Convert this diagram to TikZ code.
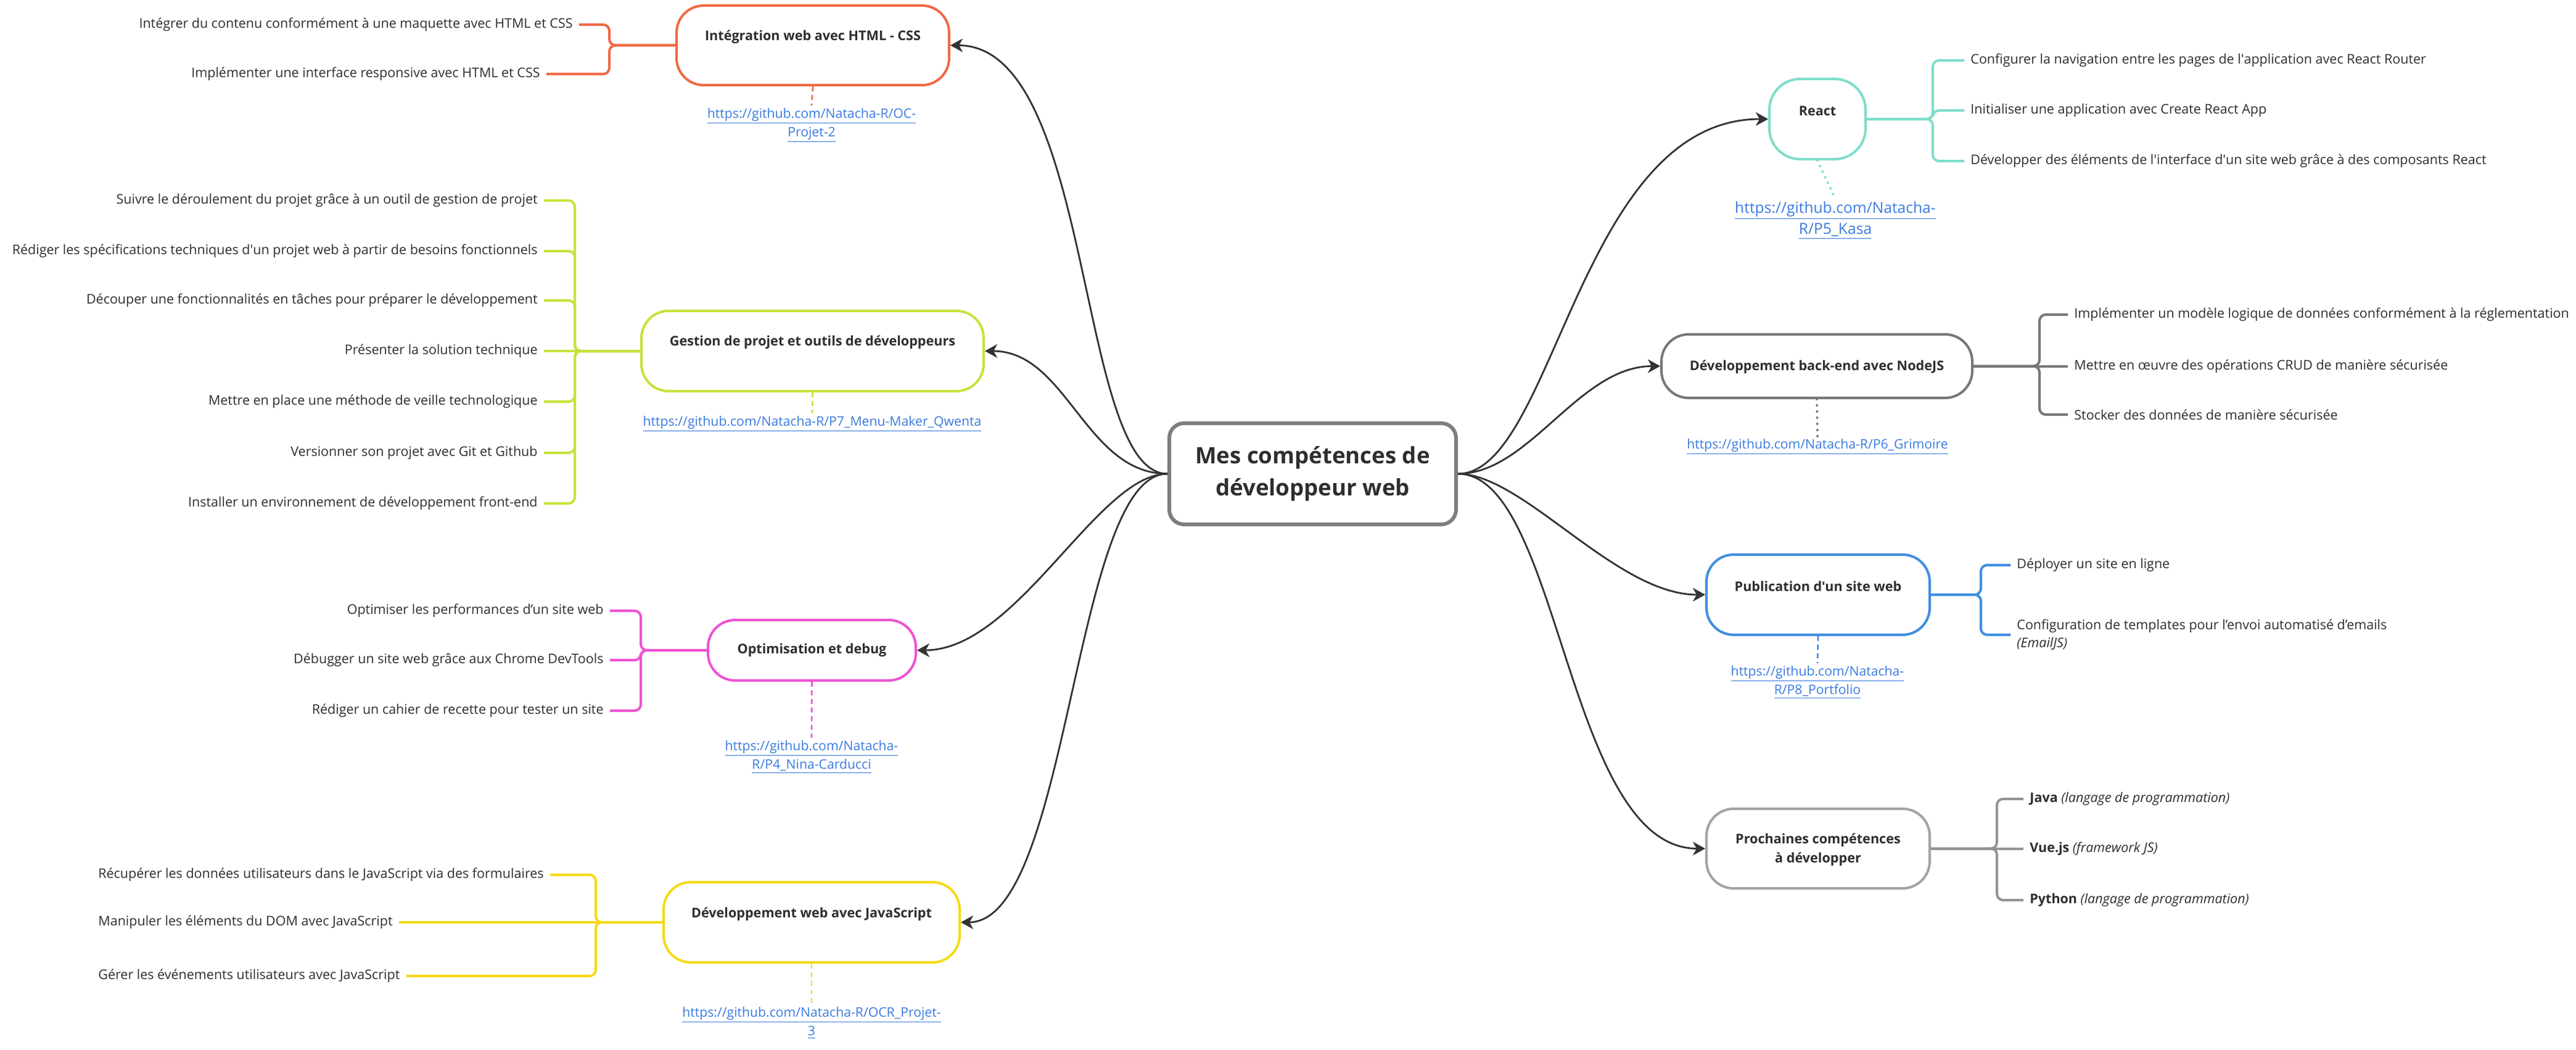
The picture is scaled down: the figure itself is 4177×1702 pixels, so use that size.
\documentclass[tikz,border=0pt]{standalone}
\usepackage{fontspec}
\newfontfamily\os{Open Sans}
\usetikzlibrary{arrows.meta}
\definecolor{cOrange}{HTML}{EF6A45}
\definecolor{cLime}{HTML}{C6E33A}
\definecolor{cMag}{HTML}{EE52D2}
\definecolor{cYel}{HTML}{F6DA16}
\definecolor{cTeal}{HTML}{7EDDCA}
\definecolor{cBlue}{HTML}{3F8EE0}
\definecolor{cNode}{HTML}{777777}
\definecolor{cNext}{HTML}{A3A3A3}
\definecolor{cCore}{HTML}{7E7E7E}
\definecolor{cDark}{HTML}{333333}
\definecolor{cTxt}{HTML}{2E2E2E}
\definecolor{cLink}{HTML}{3B7BDF}
\tikzset{
  box/.style={draw=#1, line width=2pt, rounded corners=22pt, fill=white, inner sep=0pt},
  ttl/.style={font=\os\bfseries\fontsize{10.8}{15.5}\selectfont, text=cTxt, align=center, inner sep=0pt},
  itemL/.style={font=\os\fontsize{10.75}{14.5}\selectfont, text=cTxt, anchor=east, inner xsep=5pt, inner ysep=0pt},
  itemR/.style={font=\os\fontsize{10.75}{14.5}\selectfont, text=cTxt, anchor=west, align=left, inner xsep=5pt, inner ysep=0pt},
  itemJ/.style={font=\os\fontsize{10.75}{14.5}\selectfont, text=cTxt, anchor=west, inner xsep=5pt, inner ysep=0pt},
  lnk/.style={font=\os\fontsize{10.6}{15}\selectfont, text=cLink, align=center, inner sep=2pt},
  lnkbig/.style={font=\os\fontsize{12.3}{17}\selectfont, text=cLink, align=center, inner sep=2pt},
  br/.style={draw=#1, line width=2pt, rounded corners=5pt},
  conn/.style={draw=cDark, line width=1.4pt, -{Stealth[length=10pt,width=11pt,inset=3pt]}},
  dsh/.style={draw=#1, line width=1.3pt, dash pattern=on 4pt off 3pt},
  dts/.style={draw=#1, line width=2pt, line cap=round, dash pattern=on 0pt off 5pt},
}
\newcommand{\lk}[1]{\underline{#1}}
\begin{document}
\begin{tikzpicture}[x=0.5pt,y=-0.5pt]
\path[fill=white, use as bounding box] (0,0) rectangle (4177,1702);

% central node
\node[draw=cCore, line width=3pt, rounded corners=12pt, fill=white, minimum width=232.5pt, minimum height=82pt,
      font=\os\bfseries\fontsize{18.3}{26}\selectfont, text=cTxt, align=center] (c) at (2128.5,768)
      {Mes compétences de\\développeur web};

% ---------- left boxes ----------
\node[box=cOrange, minimum width=221pt, minimum height=64.5pt] (html) at (1318,73.5) {};
\node[ttl] (tHtml) at (1318,60) {Intégration web avec HTML - CSS};
\node[box=cLime, minimum width=277.5pt, minimum height=65pt] (gest) at (1317.5,569) {};
\node[ttl] (tGest) at (1317.5,555) {Gestion de projet et outils de développeurs};
\node[box=cMag, minimum width=168.5pt, minimum height=49pt] (optim) at (1316.5,1054) {};
\node[ttl] (tOptim) at (1316.5,1054) {Optimisation et debug};
\node[box=cYel, minimum width=240pt, minimum height=65pt] (js) at (1316,1495) {};
\node[ttl] (tJs) at (1316,1482) {Développement web avec JavaScript};

% ---------- right boxes ----------
\node[box=cTeal, rounded corners=25pt, minimum width=78pt, minimum height=65pt] (react) at (2947,193) {};
\node[ttl] (tReact) at (2947,180) {React};
\node[box=cNode, minimum width=252pt, minimum height=51.5pt] (nodejs) at (2946,593.5) {};
\node[ttl] (tNode) at (2946,595) {Développement back-end avec NodeJS};
\node[box=cBlue, minimum width=181pt, minimum height=65pt] (pub) at (2948,964) {};
\node[ttl] (tPub) at (2948,950) {Publication d'un site web};
\node[box=cNext, minimum width=181pt, minimum height=64.5pt] (proch) at (2948,1375.5) {};
\node[ttl] (tProch) at (2948,1377) {Prochaines compétences\\à développer};

% ---------- main connectors ----------
\draw[conn] (c.west) .. controls (1745,768) and (1775,73.5) .. (html.east);
\draw[conn] (c.west) .. controls (1760,768) and (1730,569) .. (gest.east);
\draw[conn] (c.west) .. controls (1780,768) and (1650,1054) .. (optim.east);
\draw[conn] (c.west) .. controls (1740,768) and (1735,1495) .. (js.east);
\draw[conn] (c.east) .. controls (2520,768) and (2560,193) .. (react.west);
\draw[conn] (c.east) .. controls (2480,768) and (2560,593.5) .. (nodejs.west);
\draw[conn] (c.east) .. controls (2470,768) and (2620,964) .. (pub.west);
\draw[conn] (c.east) .. controls (2530,768) and (2540,1375.5) .. (proch.west);

% ---------- HTML items ----------
\node[itemL] (h1) at (939,40) {Intégrer du contenu conformément à une maquette avec HTML et CSS};
\node[itemL] (h2) at (886,120) {Implémenter une interface responsive avec HTML et CSS};
\coordinate (hb) at (988,0);
\foreach \i in {h1,h2} \draw[br=cOrange] (html.west) -- (html.west -| hb) |- (\i.east);

% ---------- Gestion items ----------
\node[itemL] (g1) at (882,325) {Suivre le déroulement du projet grâce à un outil de gestion de projet};
\node[itemL] (g2) at (882,407) {Rédiger les spécifications techniques d\textquotesingle un projet web à partir de besoins fonctionnels};
\node[itemL] (g3) at (882,487) {Découper une fonctionnalités en tâches pour préparer le développement};
\node[itemL] (g4) at (882,569) {Présenter la solution technique};
\node[itemL] (g5) at (882,651) {Mettre en place une méthode de veille technologique};
\node[itemL] (g6) at (882,734) {Versionner son projet avec Git et Github};
\node[itemL] (g7) at (882,816) {Installer un environnement de développement front-end};
\coordinate (gb) at (932,0);
\foreach \i in {g1,g2,g3,g5,g6,g7} \draw[br=cLime] (gest.west) -- (gest.west -| gb) |- (\i.east);
\draw[br=cLime] (gest.west) -- (g4.east);

% ---------- Optimisation items ----------
\node[itemL] (o1) at (989,990) {Optimiser les performances d’un site web};
\node[itemL] (o2) at (989,1070) {Débugger un site web grâce aux Chrome DevTools};
\node[itemL] (o3) at (989,1152) {Rédiger un cahier de recette pour tester un site};
\coordinate (ob) at (1039,0);
\foreach \i in {o1,o2,o3} \draw[br=cMag] (optim.west) -- (optim.west -| ob) |- (\i.east);

% ---------- JS items ----------
\node[itemJ] (j1) at (149,1418) {Récupérer les données utilisateurs dans le JavaScript via des formulaires};
\node[itemJ] (j2) at (149,1495) {Manipuler les éléments du DOM avec JavaScript};
\node[itemJ] (j3) at (149,1582) {Gérer les événements utilisateurs avec JavaScript};
\coordinate (jb) at (966,0);
\foreach \i in {j1,j3} \draw[br=cYel] (js.west) -- (js.west -| jb) |- (\i.east);
\draw[br=cYel] (js.west) -- (j2.east);

% ---------- React items ----------
\node[itemR] (r1) at (3185,98) {Configurer la navigation entre les pages de l\textquotesingle application avec React Router};
\node[itemR] (r2) at (3185,179) {Initialiser une application avec Create React App};
\node[itemR] (r3) at (3185,261) {Développer des éléments de l\textquotesingle interface d\textquotesingle un site web grâce à des composants React};
\coordinate (rb) at (3134,0);
\foreach \i in {r1,r2,r3} \draw[br=cTeal] (react.east) -- (react.east -| rb) |- (\i.west);

% ---------- NodeJS items ----------
\node[itemR] (n1) at (3353,510) {Implémenter un modèle logique de données conformément à la réglementation};
\node[itemR] (n2) at (3353,593.5) {Mettre en œuvre des opérations CRUD de manière sécurisée};
\node[itemR] (n3) at (3353,672) {Stocker des données de manière sécurisée};
\coordinate (nb) at (3307,0);
\foreach \i in {n1,n3} \draw[br=cNode] (nodejs.east) -- (nodejs.east -| nb) |- (\i.west);
\draw[br=cNode] (nodejs.east) -- (n2.west);

% ---------- Publication items ----------
\node[itemR] (p1) at (3260,916) {Déployer un site en ligne};
\node[itemR] (p2) at (3260,1029) {Configuration de templates pour l’envoi automatisé d’emails\\\textit{(EmailJS)}};
\coordinate (pb) at (3212,0);
\foreach \i in {p1,p2} \draw[br=cBlue] (pub.east) -- (pub.east -| pb) |- (\i.west);

% ---------- Prochaines items ----------
\node[itemR] (q1) at (3281,1295) {\textbf{Java} \textit{(langage de programmation)}};
\node[itemR] (q2) at (3281,1375.5) {\textbf{Vue.js} \textit{(framework JS)}};
\node[itemR] (q3) at (3281,1459) {\textbf{Python} \textit{(langage de programmation)}};
\coordinate (qb) at (3238,0);
\foreach \i in {q1,q3} \draw[br=cNext!90!black] (proch.east) -- (proch.east -| qb) |- (\i.west);
\draw[br=cNext!90!black] (proch.east) -- (q2.west);

% ---------- links ----------
\node[lnk] (lh) at (1316,203) {\lk{https://github.com/Natacha-R/OC-}\\\lk{Projet-2}};
\node[lnk] (lg) at (1317,687) {\lk{https://github.com/Natacha-R/P7\_Menu-Maker\_Qwenta}};
\node[lnk] (lo) at (1316,1227) {\lk{https://github.com/Natacha-}\\\lk{R/P4\_Nina-Carducci}};
\node[lnk] (lj) at (1316,1658) {\lk{https://github.com/Natacha-R/OCR\_Projet-}\\\lk{3}};
\node[lnkbig] (lr) at (2976,357) {\lk{https://github.com/Natacha-}\\\lk{R/P5\_Kasa}};
\node[lnk] (ln) at (2947,724) {\lk{https://github.com/Natacha-R/P6\_Grimoire}};
\node[lnk] (lp) at (2947,1106) {\lk{https://github.com/Natacha-}\\\lk{R/P8\_Portfolio}};

\draw[dsh=cOrange] (html.south) -- (lh.north);
\draw[dsh=cLime] (gest.south) -- (lg.north);
\draw[dsh=cMag] (optim.south) -- (lo.north);
\draw[dsh=cYel] (js.south) -- (lj.north);
\draw[dts=cTeal] (react.south) -- (lr.north);
\draw[dts=cNode] (nodejs.south) -- (ln.north);
\draw[dsh=cBlue] (pub.south) -- (lp.north);
\end{tikzpicture}
\end{document}
